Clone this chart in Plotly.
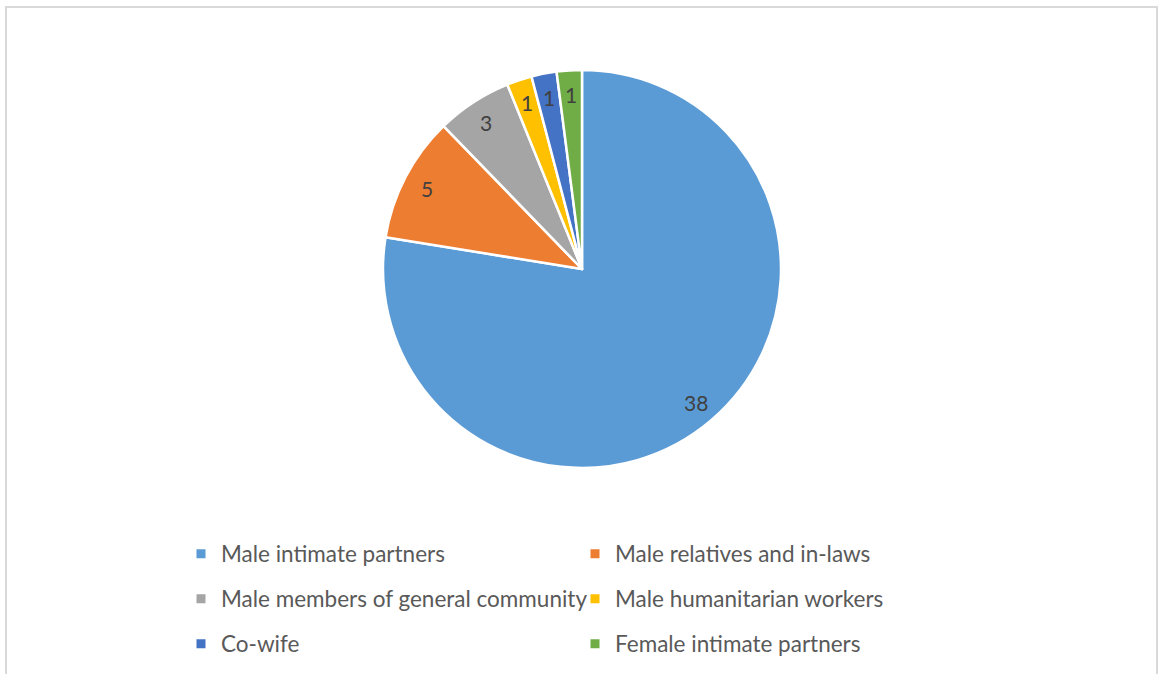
import math
import plotly.graph_objects as go

categories = ["Male intimate partners", "Male relatives and in-laws",
              "Male members of general community", "Male humanitarian workers",
              "Co-wife", "Female intimate partners"]
values = [38, 5, 3, 1, 1, 1]
colors = ["#5B9BD5", "#ED7D31", "#A5A5A5", "#FFC000", "#4472C4", "#70AD47"]

W, H = 1161, 674
cx, cy, R = 582, 269, 199  # pixel geometry of pie
FONT = "Lato"

fig = go.Figure(go.Pie(
    labels=categories, values=values, sort=False, direction="clockwise", rotation=0,
    marker=dict(colors=colors, line=dict(color="white", width=2.5)),
    textinfo="none", hoverinfo="label+value", showlegend=False,
    domain=dict(x=[(cx - R) / W, (cx + R) / W], y=[1 - (cy + R) / H, 1 - (cy - R) / H]),
))

# legend: two entries per row, three rows (one legend per row)
legend_ids = ["legend", "legend2", "legend3"]
for i, (name, col) in enumerate(zip(categories, colors)):
    fig.add_trace(go.Scatter(
        x=[None], y=[None], mode="markers", name=name,
        marker=dict(symbol="square", size=9, color=col),
        legend=legend_ids[i // 2], hoverinfo="skip",
    ))

# data labels at ~0.88 of radius, at the mid-angle of each slice
total = sum(values)
cum = 0
annotations = []
for v in values:
    mid = (cum + v / 2) / total * 2 * math.pi
    cum += v
    px = cx + 0.88 * R * math.sin(mid)
    py = cy - 0.88 * R * math.cos(mid)
    annotations.append(dict(x=px / W, y=1 - py / H, xref="paper", yref="paper",
                            xanchor="center", yanchor="middle",
                            text=str(v), showarrow=False,
                            font=dict(size=21, color="#404040", family=FONT)))

row_y = [554, 599, 644]
legend_common = dict(orientation="h", x=181 / W, xanchor="left", yanchor="middle",
                     entrywidth=349, font=dict(size=22.5, color="#595959", family=FONT),
                     itemclick=False, itemdoubleclick=False, bgcolor="rgba(0,0,0,0)")

fig.update_layout(
    width=W, height=H, margin=dict(l=0, r=0, t=0, b=0),
    paper_bgcolor="white", plot_bgcolor="white",
    font=dict(family=FONT, color="#595959"),
    showlegend=True,
    xaxis=dict(visible=False), yaxis=dict(visible=False),
    legend=dict(y=1 - row_y[0] / H, **legend_common),
    legend2=dict(y=1 - row_y[1] / H, **legend_common),
    legend3=dict(y=1 - row_y[2] / H, **legend_common),
    annotations=annotations,
    shapes=[dict(type="rect", xref="paper", yref="paper",
                 x0=6 / W, x1=1157 / W, y0=-0.05, y1=1 - 7 / H,
                 line=dict(color="#D9D9D9", width=2))],
)
fig.write_html("out.html", config={"displayModeBar": False},
               post_script="document.body.style.margin='0px';")
